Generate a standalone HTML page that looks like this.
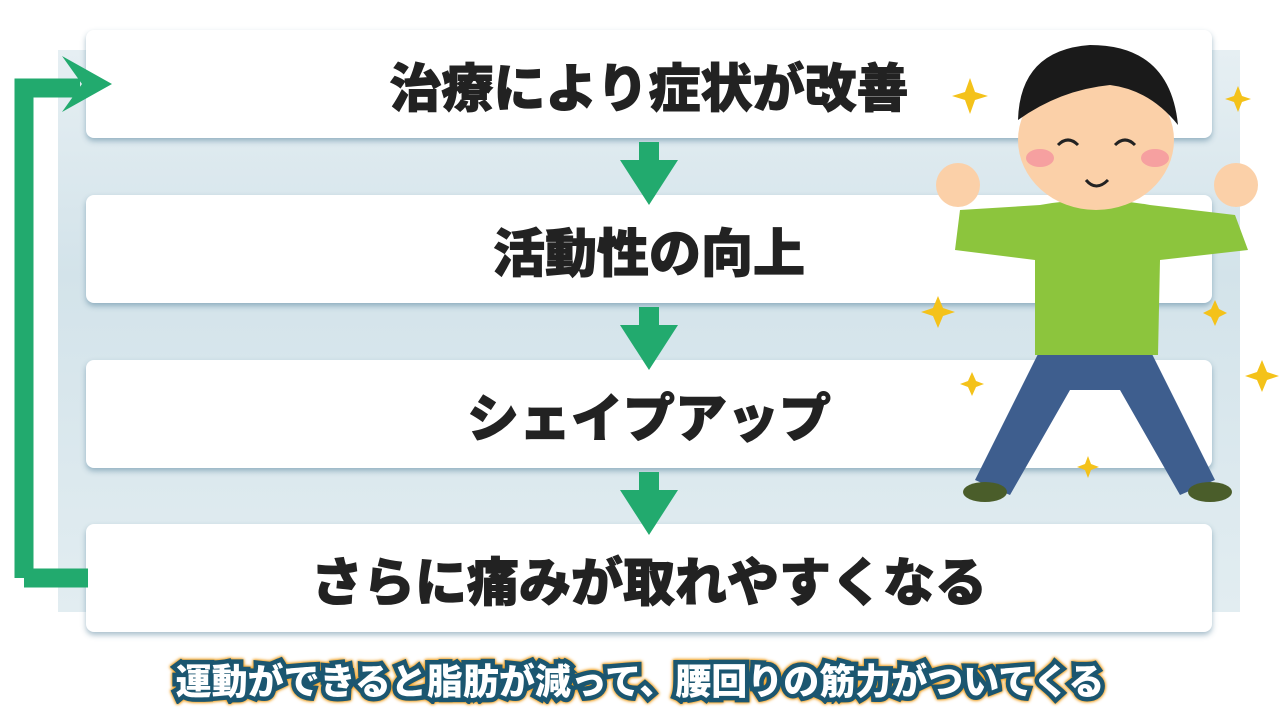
<!DOCTYPE html>
<html><head><meta charset="utf-8"><style>
body{margin:0;width:1280px;height:720px;background:#fff;position:relative;overflow:hidden;font-family:"Liberation Sans","Noto Sans CJK JP",sans-serif}
.panel{position:absolute;left:58px;top:50px;width:1182px;height:562px;background:linear-gradient(180deg,#e6eff3,#d3e3ea 40%,#e2edf1);}
.box{position:absolute;left:86px;width:1126px;height:108px;background:#fff;border-radius:8px;box-shadow:0 3px 6px rgba(60,110,140,.45);display:flex;align-items:center;justify-content:center;font-weight:900;font-size:52px;color:#222;-webkit-text-stroke:1px #222}
.sub{position:absolute;left:0;width:1280px;top:653px;text-align:center;font-weight:900;font-size:36px;color:#fff;
-webkit-text-stroke:9px #1b5670;paint-order:stroke fill;filter:drop-shadow(0 0 1.5px #f0a020) drop-shadow(0 0 1px #f0a020)}
</style></head><body>
<div class="panel"></div>
<div class="box" style="top:30px">治療により症状が改善</div>
<div class="box" style="top:195px">活動性の向上</div>
<div class="box" style="top:360px">シェイプアップ</div>
<div class="box" style="top:524px">さらに痛みが取れやすくなる</div>
<svg width="1280" height="720" style="position:absolute;left:0;top:0">
<path d="M24 578 V88 H80" fill="none" stroke="#22aa6e" stroke-width="19"/>
<path d="M24 578 H88" fill="none" stroke="#22aa6e" stroke-width="19"/>
<polygon points="62,56 112,84 62,112 82,84" fill="#22aa6e"/>
<g fill="#22aa6e">
<rect x="639" y="142" width="20" height="24"/><polygon points="620,160 678,160 649,205"/>
<rect x="639" y="307" width="20" height="24"/><polygon points="620,325 678,325 649,370"/>
<rect x="639" y="472" width="20" height="24"/><polygon points="620,490 678,490 649,535"/>
</g>
<g fill="#f4c21a">
<polygon points="970,78 975,92 988,96 975,100 970,114 965,100 952,96 965,92"/>
<polygon points="1238,86 1242,96 1251,99 1242,102 1238,112 1234,102 1225,99 1234,96"/>
<polygon points="938,296 943,308 955,312 943,316 938,328 933,316 921,312 933,308"/>
<polygon points="1215,300 1219,309 1227,313 1219,317 1215,326 1211,317 1203,313 1211,309"/>
<polygon points="972,372 976,381 984,384 976,387 972,396 968,387 960,384 968,381"/>
<polygon points="1262,360 1267,372 1279,376 1267,380 1262,392 1257,380 1245,376 1257,372"/>
<polygon points="1088,456 1091,464 1099,467 1091,470 1088,478 1085,470 1077,467 1085,464"/>
</g>
<path d="M1040 350 L975 480 L1010 495 L1070 390 L1120 390 L1180 495 L1215 480 L1150 350Z" fill="#3e5e8e"/>
<ellipse cx="985" cy="492" rx="22" ry="10" fill="#4a5d2a"/>
<ellipse cx="1210" cy="492" rx="22" ry="10" fill="#4a5d2a"/>
<path d="M1040 205 Q1095 195 1150 205 L1235 215 L1248 250 L1160 260 L1158 355 L1035 355 L1035 260 L955 250 L960 210Z" fill="#8cc53d"/>
<circle cx="958" cy="185" r="22" fill="#fbd0a8"/>
<circle cx="1236" cy="185" r="22" fill="#fbd0a8"/>
<ellipse cx="1096" cy="140" rx="78" ry="70" fill="#fbd0a8"/>
<path d="M1018 120 Q1020 50 1090 45 Q1170 45 1178 125 Q1150 90 1110 85 Q1060 90 1018 120Z" fill="#1a1a1a"/>
<ellipse cx="1040" cy="158" rx="14" ry="9" fill="#f6a0a0"/>
<ellipse cx="1155" cy="158" rx="14" ry="9" fill="#f6a0a0"/>
<path d="M1058 145 Q1068 135 1078 145 M1115 145 Q1125 135 1135 145 M1086 180 Q1096 192 1108 180" stroke="#222" stroke-width="3" fill="none"/>
</svg>
<div class="sub">運動ができると脂肪が減って、腰回りの筋力がついてくる</div>
</body></html>
